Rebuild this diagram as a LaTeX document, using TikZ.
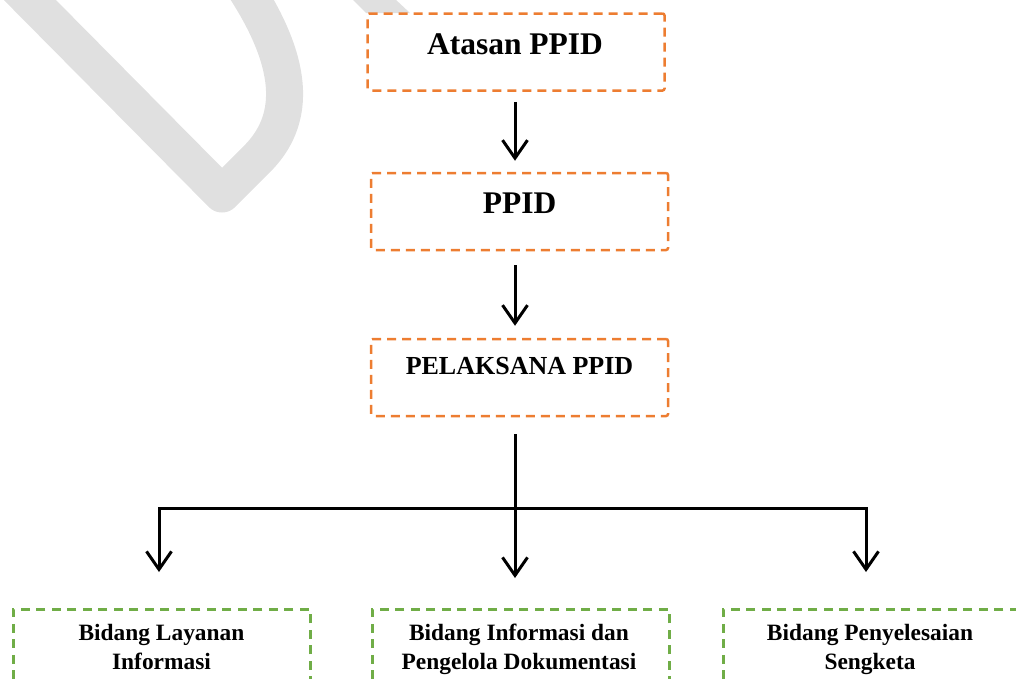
\documentclass[tikz,border=0pt]{standalone}
\usepackage{fontspec}
\setmainfont{Liberation Serif}
\usetikzlibrary{arrows.meta,calc}
\definecolor{orangeline}{RGB}{237,125,49}
\definecolor{greenline}{RGB}{112,173,71}
\definecolor{wmgray}{RGB}{224,224,224}
\tikzset{
  obox/.style={draw=orangeline, line width=2.5pt, dash pattern=on 9pt off 6pt,
    rounded corners=2pt, minimum width=297pt, minimum height=77pt, inner sep=0pt},
  gbox/.style={draw=greenline, line width=2.5pt, dash pattern=on 9pt off 6.5pt,
    minimum width=297pt, minimum height=120pt, inner sep=0pt, anchor=north west},
  conn/.style={line width=3pt, line join=miter},
  arr/.style={conn, -{Straight Barb[length=18pt,width=25pt,line width=3pt]}},
  bigtxt/.style={anchor=base, inner sep=0pt, font=\fontsize{31.5}{38}\selectfont\bfseries},
  midtxt/.style={anchor=base, inner sep=0pt, font=\fontsize{26}{31}\selectfont\bfseries},
  smalltxt/.style={anchor=base, inner sep=0pt, font=\fontsize{23.4}{29}\selectfont\bfseries},
}
\begin{document}
\begin{tikzpicture}[x=1pt,y=-1pt]
\clip (0,0) rectangle (1016,678);
% watermark
\draw[wmgray, line width=37pt, line cap=round, line join=round]
  (18,-12) -- (222,194) -- (258,158) .. controls (293,122) and (298,70) .. (245,-12);
\fill[wmgray] (352,-1) -- (395,-1) -- (410,13) -- (366,13) -- cycle;

% boxes
\node[obox] (atasan) at (516,52) {};
\node[obox] (ppid) at (519.5,211.5) {};
\node[obox] (pel) at (519.5,377.5) {};
\node[gbox] (lay) at (12,608) {};
\node[gbox] (info) at (371,608) {};
\node[gbox] (sen) at (722,608) {};

% texts
\node[bigtxt] (tatasan) at (515,54) {Atasan PPID};
\node[bigtxt] (tppid) at (519.5,213) {PPID};
\node[midtxt] (tpel) at (519.5,374) {PELAKSANA PPID};
\node[smalltxt] (tlay1) at (161.5,640) {Bidang Layanan};
\node[smalltxt] (tlay2) at (161.5,669) {Informasi};
\node[smalltxt] (tinfo1) at (519,640) {Bidang Informasi dan};
\node[smalltxt] (tinfo2) at (519,669) {Pengelola Dokumentasi};
\node[smalltxt] (tsen1) at (870,640) {Bidang Penyelesaian};
\node[smalltxt] (tsen2) at (870,669) {Sengketa};

% connectors
\coordinate (sx) at (515,0);
\coordinate (jl) at (159,508);
\coordinate (jm) at (515,508);
\coordinate (jr) at (866,508);
\draw[arr] ($(atasan.south -| sx)+(0,10)$) -- ($(ppid.north -| sx)+(0,-11)$);
\draw[arr] ($(ppid.south -| sx)+(0,14)$) -- ($(pel.north -| sx)+(0,-12)$);
\draw[arr] ($(pel.south -| sx)+(0,17)$) -- ($(info.north -| sx)+(0,-30)$);
\draw[conn, {Straight Barb[length=18pt,width=25pt,line width=3pt]}-{Straight Barb[length=18pt,width=25pt,line width=3pt]}]
  ($(lay.north -| jl)+(0,-36)$) -- (jl) -- (jr) -- ($(sen.north -| jr)+(0,-36)$);
\end{tikzpicture}
\end{document}
